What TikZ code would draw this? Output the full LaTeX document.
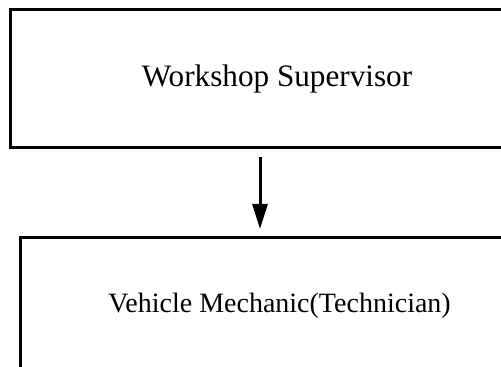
\documentclass[tikz,border=0pt]{standalone}
\usepackage{fontspec}
\setmainfont{Liberation Serif}
\usepackage{tikz}
\usetikzlibrary{arrows.meta, positioning}

\begin{document}
\begin{tikzpicture}[x=0.5pt, y=-0.5pt, line width=1.5pt]
        \tikzset{
            rolebox/.style={draw, rectangle, inner sep=0pt, outer sep=0pt},
            flow/.style={-{Triangle[width=7.5pt, length=12.5pt]}, shorten <=4.5pt, shorten >=4.5pt}
        }
        \useasboundingbox (0,0) rectangle (501,367);

        % Boxes
        \node[rolebox, minimum width=267pt, minimum height=69pt, font=\fontsize{15.6}{18}\selectfont] (sup) at (277,79) {Workshop Supervisor};
        \node[rolebox, minimum width=259.5pt, minimum height=68pt, font=\fontsize{14}{16}\selectfont, below=45pt of sup, xshift=1.25pt] (mech) {Vehicle Mechanic(Technician)};

        % Connection
        \draw[flow] ([xshift=-8.5pt]sup.south) -- ([xshift=-8.5pt]sup.south |- mech.north);
\end{tikzpicture}
\end{document}
